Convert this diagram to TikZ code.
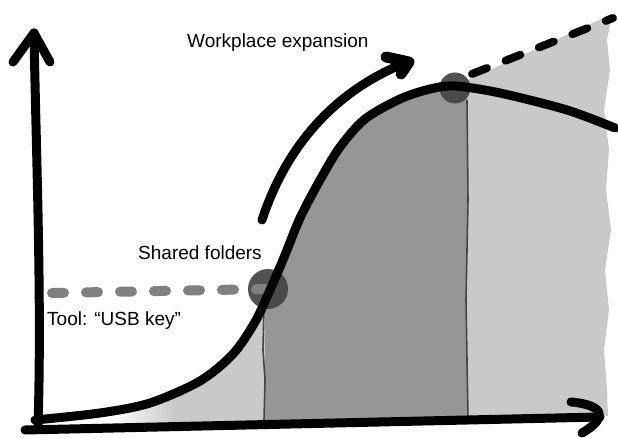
\documentclass[tikz,border=0pt]{standalone}
\usepackage{fontspec}
\setmainfont{Liberation Sans}

\definecolor{darkarea}{gray}{0.59}
\definecolor{lightarea}{gray}{0.79}
\definecolor{dotgray}{gray}{0.27}
\definecolor{usbgray}{gray}{0.50}

\tikzset{
  pen/.style={line width=9pt, line cap=round, line join=round},
  label/.style={anchor=base west, inner sep=0pt, font=\fontsize{19}{23}\selectfont},
  stage/.style={circle, fill=dotgray, fill opacity=0.93, inner sep=0pt},
  divider/.style={draw=dotgray, line width=1.6pt},
}

\def\curvepts{(35,420) (100,413) (150,403) (200,381) (233,354) (255,322) (270,290) (285,255) (300,218) (320,180) (340,147) (365,119) (400,99) (430,89) (455,86) (500,93) (567,110) (615,128)}

\begin{document}
\begin{tikzpicture}[x=1pt, y=-1pt]
  \useasboundingbox (0,0) rectangle (618,438);

  % Areas under the curve
  \begin{scope}
    \clip plot[smooth, tension=0.5] coordinates {\curvepts} -- (615,417) -- (35,430) -- cycle;
    \shade[left color=white, right color=lightarea] (110,250) rectangle (175,440);
    \fill[lightarea] (175,250) rectangle (265,440);
    \fill[darkarea] (265,0) rectangle (467,440);
  \end{scope}
  \fill[lightarea] (455,86) -- (612,14) -- (607,40) -- (610,70) -- (604,110) -- (609,150)
    -- (606,190) -- (611,230) -- (605,270) -- (609,310) -- (604,350) -- (607,390)
    -- (608,416) -- (467,420) -- (467,95) -- cycle;
  \draw[divider] (264,305) -- (263,350) -- (265,380) -- (264,420);
  \draw[divider] (467,100) -- (468,200) -- (466,300) -- (468,420);

  % Axes
  \draw[pen] (38,426) .. controls (42,300) and (36,150) .. (34,33);
  \draw[pen] (13,62) -- (34,33) -- (50,62);
  \draw[pen] (25,430) -- (600,417);
  \draw[pen] (571,402) .. controls (605,405) and (608,418) .. (582,433);

  % Stages
  \node[stage, minimum size=40pt] (shared) at (268,289) {};
  \node[stage, minimum size=31pt] (expansion) at (455,88) {};
  \coordinate (usb) at (52,293);
  \coordinate (top) at (613,18);
  \draw[usbgray, line width=10pt, line cap=round, dash pattern=on 12pt off 22pt] (usb) -- (shared.center);
  \draw[line width=8pt, line cap=round, dash pattern=on 16pt off 20pt] (472,74) -- (top);

  % Curve
  \draw[pen] plot[smooth, tension=0.5] coordinates {\curvepts};

  % Growth arrow
  \coordinate (start) at (262,220);
  \coordinate (tip) at (409,62);
  \draw[pen] (start) .. controls (285,150) and (330,95) .. (400,65);
  \draw[pen, line width=11pt] (386,57) -- (tip) -- (401,74);

  % Labels
  \node[label] (workplace) at (187,48) {Workplace expansion};
  \node[label] (folders) at (138,259) {Shared folders};
  \node[label] (tool) at (47,325) {Tool: “USB key”};
\end{tikzpicture}
\end{document}
